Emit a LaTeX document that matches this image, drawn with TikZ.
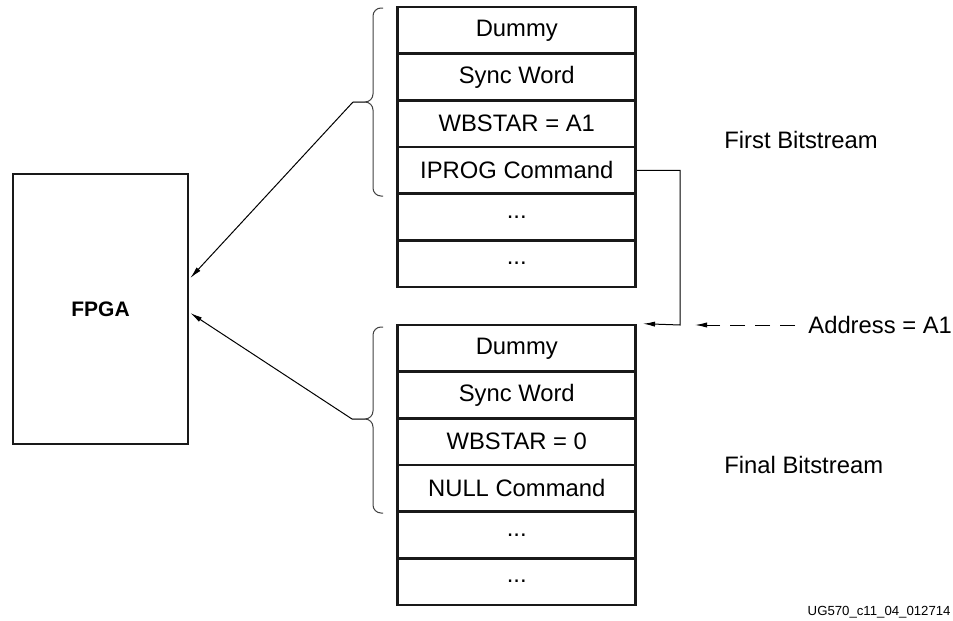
\documentclass[tikz,border=0pt]{standalone}
\usepackage{fontspec}
\setmainfont{Liberation Sans}
\usetikzlibrary{arrows.meta,calc}
\begin{document}
\begin{tikzpicture}[x=0.5pt,y=-0.5pt,
  cell/.style={draw=black!90,line width=1.3pt,minimum width=119pt,minimum height=23.33pt,inner sep=0pt,font=\fontsize{11.9}{14}\selectfont},
  fpgabox/.style={draw=black!90,line width=1.3pt,minimum width=87.5pt,minimum height=135pt,inner sep=0pt,font=\fontsize{10.5}{12}\selectfont\bfseries},
  lbl/.style={anchor=west,inner sep=0pt,font=\fontsize{11.9}{14}\selectfont},
  brace/.style={draw=black!75,line width=0.5pt,rounded corners=4pt},
  conn/.style={draw=black,line width=0.5pt,-{Latex[length=6pt,width=2.6pt]}},
  dconn/.style={conn,dash pattern=on 7.5pt off 5pt}]
\useasboundingbox (0,0) rectangle (953,621);
% FPGA
\node[fpgabox] (fpga) at (100.5,309) {FPGA};
% first bitstream
\node[cell] (t1) at (516.75,30.33) {Dummy};
\node[cell] (t2) at (516.75,77) {Sync Word};
\node[cell] (t3) at (516.75,123.67) {WBSTAR = A1};
\node[cell] (t4) at (516.75,170.33) {IPROG Command};
\node[cell] (t5) at (516.75,217) {...};
\node[cell] (t6) at (516.75,263.67) {...};
% final bitstream
\node[cell] (b1) at (516.75,348.33) {Dummy};
\node[cell] (b2) at (516.75,395) {Sync Word};
\node[cell] (b3) at (516.75,441.67) {WBSTAR = 0};
\node[cell] (b4) at (516.75,488.33) {NULL Command};
\node[cell] (b5) at (516.75,535) {...};
\node[cell] (b6) at (516.75,581.67) {...};
% labels
\node[lbl] (first) at (724,140) {First Bitstream};
\node[lbl] (final) at (724,465) {Final Bitstream};
\node[lbl] (addr) at (808,325) {Address = A1};
\node[anchor=east,inner sep=0pt,font=\fontsize{6.6}{8}\selectfont] (ug) at (951,612) {UG570\_c11\_04\_012714};
% braces
\coordinate (tb) at (353,102);
\coordinate (bb) at (352,419);
\draw[brace] (383,8) -| (373,102) -- (tb);
\draw[brace] (tb) -- (373,102) |- (383,196);
\draw[brace] (383,327) -| (373,419) -- (bb);
\draw[brace] (bb) -- (373,419) |- (383,513);
% arrows to FPGA
\draw[conn] (tb) -- ($(fpga.east)+(1,-31)$);
\draw[conn] (bb) -- ($(fpga.east)+(1,4)$);
% jump connector
\coordinate (jc) at (680,325);
\draw[conn] (t4.east) -| (jc) -- ([xshift=3pt]b1.north east);
% address arrow
\coordinate (as) at (795,325);
\coordinate (ae) at (695,325);
\draw[dconn] (as) -- (ae);
\end{tikzpicture}
\end{document}
